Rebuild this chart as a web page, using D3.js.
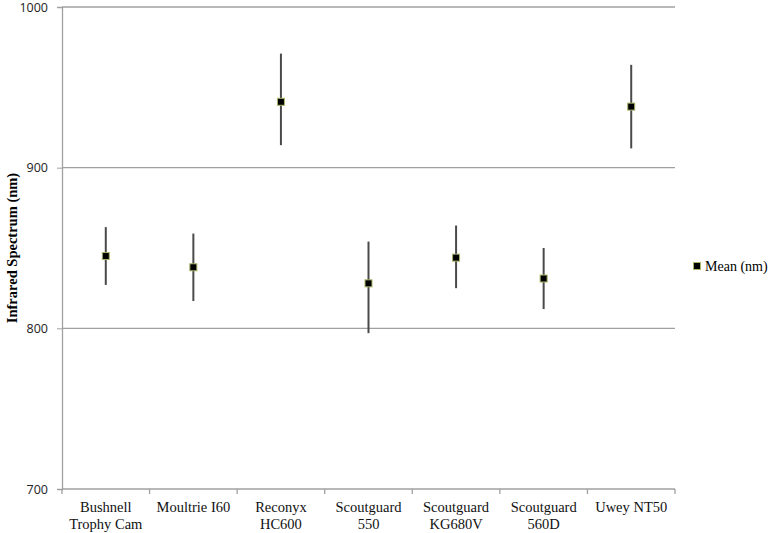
<!DOCTYPE html>
<html>
<head>
<meta charset="utf-8">
<script src="https://cdn.jsdelivr.net/npm/d3@7"></script>
<style>
  body { margin: 0; background: #fff; }
  .ytick text { font-family: "Open Sans", "Liberation Sans", sans-serif; font-size: 12.5px; fill: #222; }
  .xlab { font-family: "Liberation Serif", serif; font-size: 14.5px; fill: #111; }
</style>
</head>
<body>
<svg width="771" height="533"></svg>
<script>
var cameras = [["Bushnell", "Trophy Cam"], ["Moultrie I60"], ["Reconyx", "HC600"], ["Scoutguard", "550"],
               ["Scoutguard", "KG680V"], ["Scoutguard", "560D"], ["Uwey NT50"]];
var meanNm = [845, 838, 941, 828, 844, 831, 938];
var upperNm = [863, 859, 971, 854, 864, 850, 964];
var lowerNm = [827, 817, 914, 797, 825, 812, 912];
var yTicks = [700, 800, 900, 1000];

var svg = d3.select("svg"),
    margin = {top: 7, right: 96, bottom: 44, left: 62},
    width = 771 - margin.left - margin.right,
    height = 533 - margin.top - margin.bottom,
    g = svg.append("g").attr("transform", "translate(" + margin.left + "," + margin.top + ")");

var x = d3.scaleBand()
    .domain(d3.range(cameras.length))
    .range([0, width]);

var y = d3.scaleLinear()
    .domain([700, 1000])
    .range([height, 0]);

// gridlines
g.selectAll(".grid")
    .data(yTicks.slice(1))
  .enter().append("line")
    .attr("x1", 0).attr("x2", width)
    .attr("y1", function(d) { return y(d); })
    .attr("y2", function(d) { return y(d); })
    .attr("stroke", "#a0a0a0").attr("stroke-width", 1.3);

// y axis
var yAxis = g.append("g")
    .attr("class", "ytick")
    .call(d3.axisLeft(y).tickValues(yTicks).tickSize(5).tickPadding(9).tickFormat(d3.format("d")));
yAxis.select(".domain").attr("stroke", "#a0a0a0").attr("stroke-width", 1.3);
yAxis.selectAll("line").attr("stroke", "#a0a0a0");

// x axis with ticks at band edges
g.append("line")
    .attr("x1", 0).attr("x2", width)
    .attr("y1", height).attr("y2", height)
    .attr("stroke", "#a0a0a0").attr("stroke-width", 1.3);
g.selectAll(".xtick")
    .data(d3.range(cameras.length + 1))
  .enter().append("line")
    .attr("x1", function(i) { return i * x.bandwidth(); })
    .attr("x2", function(i) { return i * x.bandwidth(); })
    .attr("y1", height).attr("y2", height + 5)
    .attr("stroke", "#a0a0a0").attr("stroke-width", 1.3);

var lab = g.selectAll(".xlab")
    .data(cameras)
  .enter().append("text")
    .attr("class", "xlab")
    .attr("text-anchor", "middle")
    .attr("transform", function(d, i) { return "translate(" + (x(i) + x.bandwidth() / 2) + "," + (height + 23) + ")"; });
lab.selectAll("tspan")
    .data(function(d) { return d; })
  .enter().append("tspan")
    .attr("x", 0)
    .attr("y", function(d, i) { return i * 17; })
    .text(function(d) { return d; });

// error bars
g.selectAll(".err")
    .data(meanNm)
  .enter().append("line")
    .attr("x1", function(d, i) { return x(i) + x.bandwidth() / 2; })
    .attr("x2", function(d, i) { return x(i) + x.bandwidth() / 2; })
    .attr("y1", function(d, i) { return y(upperNm[i]); })
    .attr("y2", function(d, i) { return y(lowerNm[i]); })
    .attr("stroke", "#4a4a4a").attr("stroke-width", 2);

// means
g.selectAll(".pt")
    .data(meanNm)
  .enter().append("rect")
    .attr("x", function(d, i) { return x(i) + x.bandwidth() / 2 - 3.5; })
    .attr("y", function(d) { return y(d) - 3.5; })
    .attr("width", 7).attr("height", 7)
    .attr("fill", "#000").attr("stroke", "#a8b86a").attr("stroke-width", 1);

// axis title
svg.append("text")
    .attr("transform", "translate(17," + (margin.top + height / 2) + ") rotate(-90)")
    .attr("text-anchor", "middle")
    .attr("font-family", "Liberation Serif, serif")
    .attr("font-weight", "bold")
    .attr("font-size", "14.5px")
    .text("Infrared Spectrum (nm)");

// legend
var leg = svg.append("g").attr("transform", "translate(697,266)");
leg.append("rect")
    .attr("x", -3.5).attr("y", -3.5).attr("width", 7).attr("height", 7)
    .attr("fill", "#000").attr("stroke", "#a8b86a");
leg.append("text")
    .attr("x", 8).attr("y", 5)
    .attr("font-family", "Liberation Serif, serif")
    .attr("font-size", "14px")
    .text("Mean (nm)");
</script>
</body>
</html>
